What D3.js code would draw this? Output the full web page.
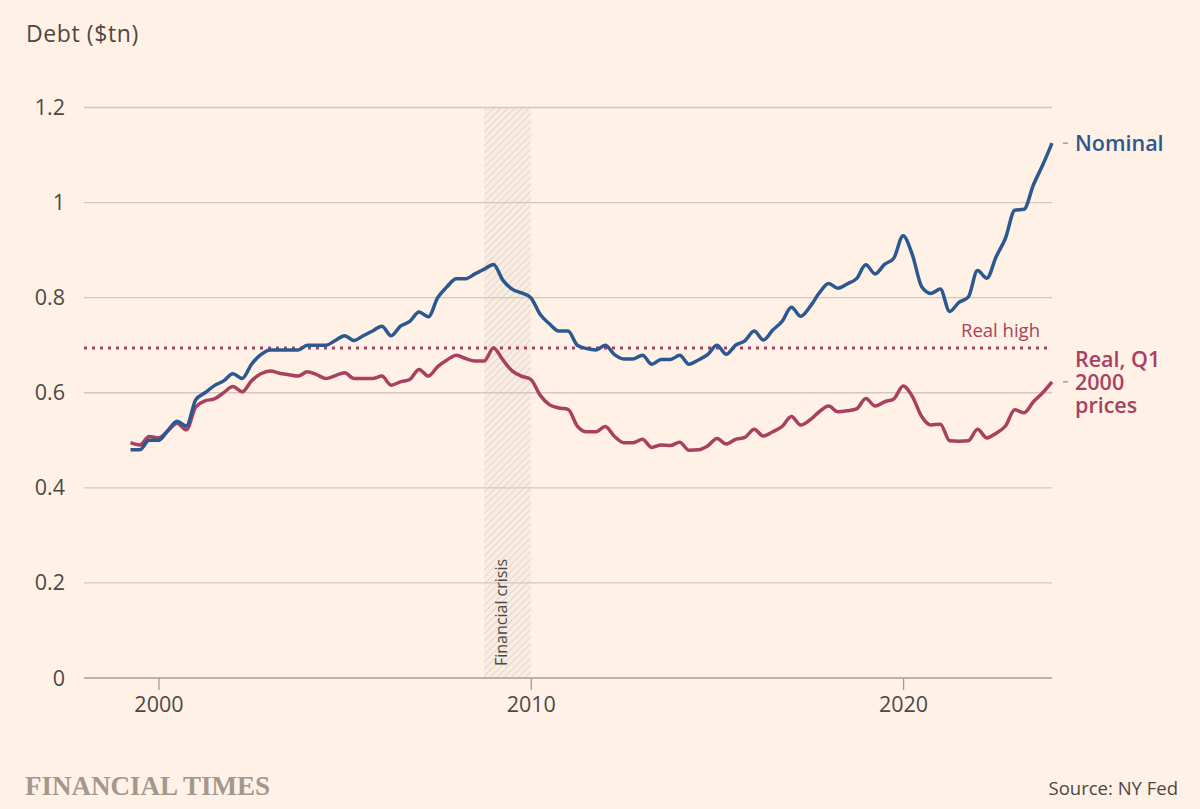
<!DOCTYPE html>
<html>
<head>
<meta charset="utf-8">
<script src="https://cdn.jsdelivr.net/npm/d3@7"></script>
<style>
  html, body { margin: 0; padding: 0; background: #fff1e5; }
  svg { display: block; }
</style>
</head>
<body>
<div id="chart"></div>
<script>
// Credit card debt, nominal vs real (Q1 2000 prices), $tn, quarterly 1999Q1–2023Q4
const FIRST_QUARTER_END = 1999.25;

const nominal = [
  0.48, 0.48, 0.50, 0.50, 0.52, 0.54, 0.53, 0.585, 0.60, 0.615,
  0.625, 0.64, 0.63, 0.66, 0.68, 0.69, 0.69, 0.69, 0.69, 0.70,
  0.70, 0.70, 0.71, 0.72, 0.71, 0.72, 0.73, 0.74, 0.72, 0.74,
  0.75, 0.77, 0.76, 0.80, 0.823, 0.84, 0.84, 0.85, 0.86, 0.87,
  0.837, 0.818, 0.81, 0.80, 0.765, 0.745, 0.73, 0.73, 0.70, 0.693,
  0.69, 0.70, 0.68, 0.671, 0.671, 0.679, 0.66, 0.67, 0.67, 0.679,
  0.66, 0.669, 0.68, 0.70, 0.681, 0.70, 0.709, 0.73, 0.711, 0.732,
  0.75, 0.78, 0.761, 0.781, 0.81, 0.83, 0.82, 0.829, 0.84, 0.869,
  0.85, 0.87, 0.883, 0.93, 0.89, 0.823, 0.809, 0.818, 0.771, 0.79,
  0.801, 0.857, 0.841, 0.886, 0.925, 0.984, 0.986, 1.037, 1.079, 1.125
];

const real = [
  0.495, 0.49, 0.508, 0.505, 0.52, 0.536, 0.522, 0.57, 0.583, 0.587,
  0.60, 0.613, 0.602, 0.625, 0.64, 0.646, 0.641, 0.638, 0.635, 0.644,
  0.638, 0.63, 0.636, 0.642, 0.63, 0.63, 0.63, 0.635, 0.616, 0.623,
  0.628, 0.649, 0.635, 0.655, 0.669, 0.679, 0.672, 0.667, 0.667, 0.694,
  0.669, 0.646, 0.635, 0.628, 0.595, 0.575, 0.568, 0.565, 0.53, 0.518,
  0.518, 0.529, 0.508, 0.495, 0.495, 0.502, 0.485, 0.49, 0.489, 0.496,
  0.479, 0.48, 0.488, 0.504, 0.492, 0.502, 0.506, 0.523, 0.509, 0.518,
  0.529, 0.55, 0.532, 0.543, 0.56, 0.572, 0.56, 0.562, 0.566, 0.588,
  0.572, 0.581, 0.587, 0.614, 0.592, 0.55, 0.532, 0.534, 0.499, 0.498,
  0.499, 0.523, 0.505, 0.515, 0.53, 0.564, 0.558, 0.581, 0.60, 0.623
];

const realHigh = 0.694;
const crisis = [2008.75, 2010.0];

const yTicks = [0, 0.2, 0.4, 0.6, 0.8, 1, 1.2];
const xTicks = [2000, 2010, 2020];
const realLines = ['Real, Q1', '2000', 'prices'];

const W = 1200, H = 809;
const PLOT = { left: 84, right: 1052, top: 107.5, bottom: 678 };
const FONT = '"Open Sans", "Noto Sans", sans-serif';
const INK = '#4d4845';
const BLUE = '#2c5891';
const CLARET = '#a9405f';

const svg = d3.select('#chart').append('svg')
  .attr('width', W)
  .attr('height', H);

svg.append('rect').attr('width', W).attr('height', H).attr('fill', '#fff1e5');

const x = d3.scaleLinear().domain([1998, 2024]).range([PLOT.left, PLOT.right]);
const y = d3.scaleLinear().domain([0, 1.2]).range([PLOT.bottom, PLOT.top]);

const quarterEnd = i => FIRST_QUARTER_END + i * 0.25;

// hatch for the crisis band
const defs = svg.append('defs');
const pat = defs.append('pattern')
  .attr('id', 'hatch')
  .attr('patternUnits', 'userSpaceOnUse')
  .attr('width', 5)
  .attr('height', 5)
  .attr('patternTransform', 'rotate(45)');
pat.append('rect').attr('width', 5).attr('height', 5).attr('fill', '#f9ece1');
pat.append('line')
  .attr('x1', 0).attr('y1', 0).attr('x2', 0).attr('y2', 5)
  .attr('stroke', '#ddd2c8')
  .attr('stroke-width', 1.6);

svg.append('rect')
  .attr('x', x(crisis[0]))
  .attr('y', y(1.2))
  .attr('width', x(crisis[1]) - x(crisis[0]))
  .attr('height', y(0) - y(1.2))
  .attr('fill', 'url(#hatch)');

// gridlines
svg.append('g')
  .selectAll('line')
  .data(yTicks.filter(d => d > 0))
  .join('line')
  .attr('x1', PLOT.left)
  .attr('x2', PLOT.right)
  .attr('y1', d => y(d))
  .attr('y2', d => y(d))
  .attr('stroke', '#d4c8be')
  .attr('stroke-width', 1.3);

// y labels
svg.append('g')
  .selectAll('text')
  .data(yTicks)
  .join('text')
  .attr('x', 65)
  .attr('y', d => y(d))
  .attr('dy', '0.35em')
  .attr('text-anchor', 'end')
  .attr('font-family', FONT)
  .attr('font-size', 21.5)
  .attr('fill', INK)
  .text(d => d3.format('~g')(d));

// x axis
const xAxis = svg.append('g')
  .attr('transform', `translate(0, ${y(0)})`)
  .call(d3.axisBottom(x).tickValues(xTicks).tickFormat(d3.format('d')).tickSize(12).tickPadding(7));
xAxis.select('.domain').remove();
xAxis.selectAll('line').attr('stroke', '#a59d95').attr('stroke-width', 1.3);
xAxis.selectAll('text')
  .attr('font-family', FONT)
  .attr('font-size', 21.5)
  .attr('fill', INK);

svg.append('line')
  .attr('x1', PLOT.left).attr('x2', PLOT.right)
  .attr('y1', y(0)).attr('y2', y(0))
  .attr('stroke', '#a59d95')
  .attr('stroke-width', 1.5);

// crisis label
svg.append('text')
  .attr('transform', `translate(${x(crisis[0]) + 23}, ${y(0) - 12}) rotate(-90)`)
  .attr('font-family', FONT)
  .attr('font-size', 16)
  .attr('fill', INK)
  .text('Financial crisis');

// real high line
svg.append('line')
  .attr('x1', PLOT.left).attr('x2', PLOT.right)
  .attr('y1', y(realHigh)).attr('y2', y(realHigh))
  .attr('stroke', CLARET)
  .attr('stroke-width', 3)
  .attr('stroke-dasharray', '3,5');

svg.append('text')
  .attr('x', 1040)
  .attr('y', y(realHigh) - 11)
  .attr('text-anchor', 'end')
  .attr('font-family', FONT)
  .attr('font-size', 18.5)
  .attr('fill', CLARET)
  .text('Real high');

// lines
const line = d3.line()
  .x((d, i) => x(quarterEnd(i)))
  .y(d => y(d))
  .curve(d3.curveMonotoneX);

svg.append('path')
  .datum(real)
  .attr('d', line)
  .attr('fill', 'none')
  .attr('stroke', CLARET)
  .attr('stroke-width', 3.5)
  .attr('stroke-linejoin', 'round');

svg.append('path')
  .datum(nominal)
  .attr('d', line)
  .attr('fill', 'none')
  .attr('stroke', BLUE)
  .attr('stroke-width', 3.5)
  .attr('stroke-linejoin', 'round');

// end labels
const lastN = nominal[nominal.length - 1];
const lastR = real[real.length - 1];

svg.append('line')
  .attr('x1', 1063).attr('x2', 1068)
  .attr('y1', y(lastN)).attr('y2', y(lastN))
  .attr('stroke', '#a59d95').attr('stroke-width', 1.5);
svg.append('text')
  .attr('x', 1075)
  .attr('y', y(lastN) + 8)
  .attr('font-family', FONT)
  .attr('font-size', 21.5)
  .attr('font-weight', 600)
  .attr('fill', BLUE)
  .text('Nominal');

svg.append('line')
  .attr('x1', 1063).attr('x2', 1068)
  .attr('y1', y(lastR)).attr('y2', y(lastR))
  .attr('stroke', '#a59d95').attr('stroke-width', 1.5);
svg.append('g')
  .selectAll('text')
  .data(realLines)
  .join('text')
  .attr('x', 1075)
  .attr('y', (d, i) => y(lastR) - 15 + i * 23)
  .attr('font-family', FONT)
  .attr('font-size', 21.5)
  .attr('font-weight', 600)
  .attr('fill', CLARET)
  .text(d => d);

// title
svg.append('text')
  .attr('x', 26)
  .attr('y', 42)
  .attr('font-family', FONT)
  .attr('font-size', 23)
  .attr('letter-spacing', 0.6)
  .attr('fill', INK)
  .text('Debt ($tn)');

// footer
svg.append('text')
  .attr('x', 25)
  .attr('y', 795)
  .attr('font-family', '"Liberation Serif", "DejaVu Serif", serif')
  .attr('font-size', 28)
  .attr('font-weight', 700)
  .attr('fill', '#a19890')
  .attr('textLength', 245)
  .attr('lengthAdjust', 'spacingAndGlyphs')
  .text('FINANCIAL TIMES');

svg.append('text')
  .attr('x', 1178)
  .attr('y', 795)
  .attr('text-anchor', 'end')
  .attr('font-family', FONT)
  .attr('font-size', 18.5)
  .attr('fill', INK)
  .text('Source: NY Fed');
</script>
</body>
</html>
